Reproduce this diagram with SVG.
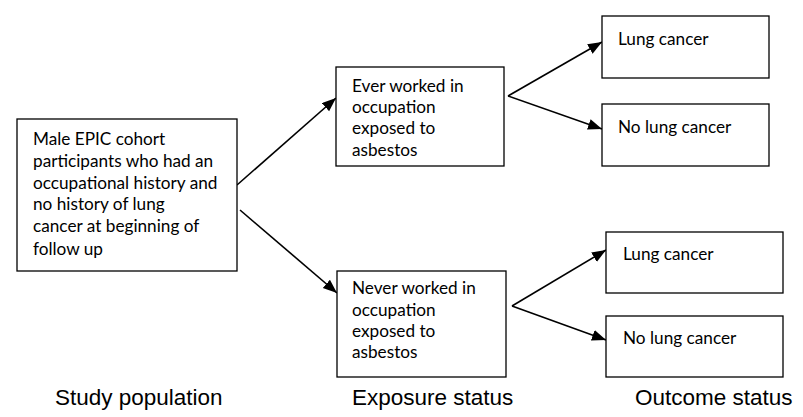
<svg xmlns="http://www.w3.org/2000/svg" width="803" height="417" viewBox="0 0 803 417">
<defs>
<marker id="ah" markerUnits="userSpaceOnUse" markerWidth="15" markerHeight="12" refX="14" refY="5.5" orient="auto">
<path d="M0,0 L14,5.5 L0,11 Z" fill="#000"/>
</marker>
<style>
.box{fill:#fff;stroke:#000;stroke-width:1.3}
.t{font-family:Lato,"Open Sans",sans-serif;font-size:17.2px;fill:#000}
.lbl{font-family:"Liberation Sans",Arial,sans-serif;font-size:22.5px;fill:#000}
.c{stroke:#000;stroke-width:1.6;fill:none;marker-end:url(#ah)}
</style>
</defs>
<rect width="803" height="417" fill="#fff"/>
<g id="connectors">
<line class="c" x1="237" y1="185" x2="336" y2="98"/>
<line class="c" x1="240" y1="210" x2="337" y2="293"/>
<line class="c" x1="508" y1="96" x2="602" y2="42"/>
<line class="c" x1="508" y1="96" x2="602" y2="129"/>
<line class="c" x1="512" y1="306" x2="606" y2="250"/>
<line class="c" x1="512" y1="306" x2="606" y2="340"/>
</g>
<g id="population">
<rect class="box" x="17" y="119" width="220" height="152"/>
<text class="t" x="33" y="145">Male EPIC cohort</text>
<text class="t" x="33" y="167">participants who had an</text>
<text class="t" x="33" y="189">occupational history and</text>
<text class="t" x="33" y="210">no history of lung</text>
<text class="t" x="33" y="232">cancer at beginning of</text>
<text class="t" x="33" y="255">follow up</text>
</g>
<g id="exposed">
<rect class="box" x="336" y="67" width="168" height="99"/>
<text class="t" x="352" y="92">Ever worked in</text>
<text class="t" x="352" y="113">occupation</text>
<text class="t" x="352" y="134">exposed to</text>
<text class="t" x="352" y="156">asbestos</text>
</g>
<g id="unexposed">
<rect class="box" x="337" y="271" width="169" height="106"/>
<text class="t" x="352" y="294">Never worked in</text>
<text class="t" x="352" y="316">occupation</text>
<text class="t" x="352" y="337">exposed to</text>
<text class="t" x="352" y="358">asbestos</text>
</g>
<g id="exp-lung">
<rect class="box" x="602" y="16" width="167" height="62"/>
<text class="t" x="618" y="45">Lung cancer</text>
</g>
<g id="exp-nolung">
<rect class="box" x="602" y="104" width="167" height="62"/>
<text class="t" x="618" y="133">No lung cancer</text>
</g>
<g id="unexp-lung">
<rect class="box" x="606" y="232" width="177" height="61"/>
<text class="t" x="623" y="260">Lung cancer</text>
</g>
<g id="unexp-nolung">
<rect class="box" x="606" y="316" width="177" height="61"/>
<text class="t" x="623" y="344">No lung cancer</text>
</g>
<g id="labels">
<text class="lbl" x="55" y="405">Study population</text>
<text class="lbl" x="352" y="405">Exposure status</text>
<text class="lbl" x="635" y="405">Outcome status</text>
</g>
</svg>
